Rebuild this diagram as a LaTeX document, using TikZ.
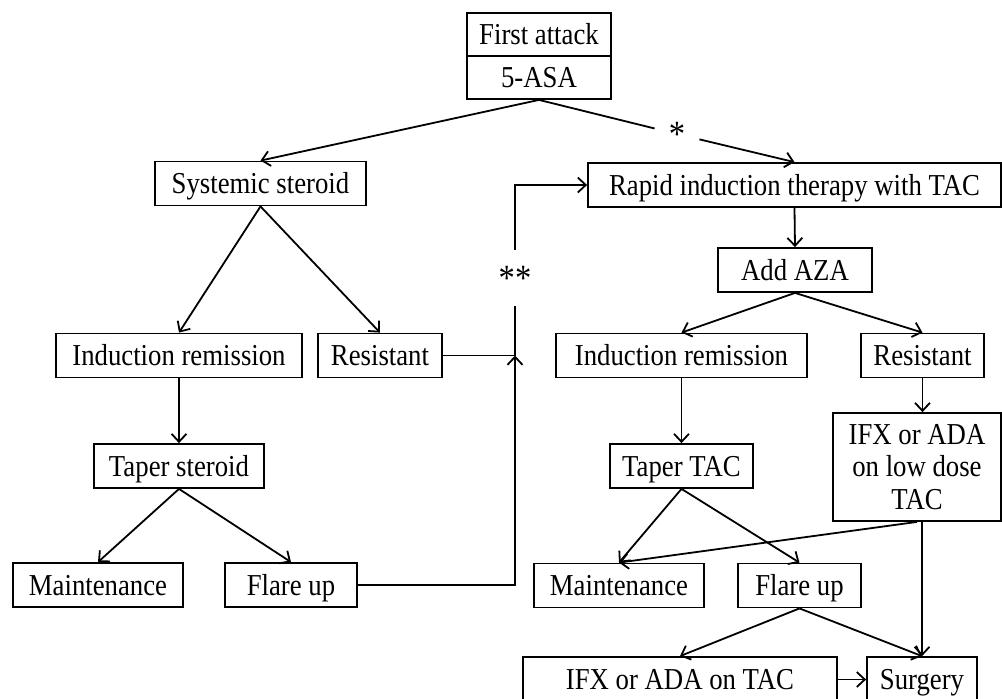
\documentclass[tikz,border=0pt]{standalone}
\usepackage{fontspec}
\setmainfont[FakeStretch=0.88]{Liberation Serif}
\usetikzlibrary{arrows.meta,calc}
\tikzset{
  blk/.style ={draw, rectangle, align=center, inner sep=2pt, line width=0.9pt,
               minimum height=22pt, text height=12pt, text depth=2pt,
               font=\fontsize{15.2}{16.3}\selectfont},
  multi/.style={text height=, text depth=},
  ar/.style  ={-{Straight Barb[length=4pt,width=7.5pt]}, line width=0.9pt},
  ln/.style  ={line width=0.9pt},
  mrk/.style ={inner sep=0pt, font=\fontsize{18.5}{18}\selectfont},
}

\begin{document}
\begin{tikzpicture}[x=0.5pt,y=-0.5pt]
\useasboundingbox (0,0) rectangle (1002,698);
% top of the tree
\node[blk, minimum width=72pt, minimum height=21.5pt] (first) at (539,34.5) {First attack};
\node[blk, minimum width=72pt, minimum height=21.5pt] (asa) at (539,77.5) {5-ASA};
\node[mrk, minimum width=22pt, minimum height=12pt] (star) at (677,134) {*};
% steroid arm
\node[blk, minimum width=105.5pt] (sys) at (260.5,183.5) {Systemic steroid};
\node[blk, minimum width=123pt] (indL) at (179,355.5) {Induction remission};
\node[blk, minimum width=62pt] (resL) at (380,355.5) {Resistant};
\node[blk, minimum width=85pt] (taperL) at (179,466) {Taper steroid};
\node[blk, minimum width=85pt] (maintL) at (98,585) {Maintenance};
\node[blk, minimum width=66pt] (flareL) at (291,585) {Flare up};
\node[mrk, minimum width=20pt, minimum height=27.5pt] (dstar) at (515,278) {**};
\coordinate (jn) at (515,355.5);
% TAC arm
\node[blk, minimum width=206.5pt] (rapid) at (794.5,185) {Rapid induction therapy with TAC};
\node[blk, minimum width=77pt] (aza) at (795,270) {Add AZA};
\node[blk, minimum width=125.5pt] (indR) at (681.5,355.5) {Induction remission};
\node[blk, minimum width=61.5pt] (resR) at (922.5,355.5) {Resistant};
\node[blk, minimum width=71.5pt] (taperR) at (681.5,466) {Taper TAC};
\node[blk, multi, minimum width=84pt, minimum height=54pt] (lowdose) at (917,467)
  {IFX or ADA\\on low dose\\TAC};
\node[blk, minimum width=85pt] (maintR) at (619,585.5) {Maintenance};
\node[blk, minimum width=61.5pt] (flareR) at (799.5,585.5) {Flare up};
\node[blk, minimum width=157pt, minimum height=22.5pt] (ifxtac) at (680,679.5) {IFX or ADA on TAC};
\node[blk, minimum width=55pt, minimum height=22.5pt] (surgery) at (922,679.5) {Surgery};
% connectors
\draw[ar] (asa.south) -- (sys.north);
\draw[ln] (asa.south) -- (star);
\draw[ar] (star) -- (rapid.north);
\draw[ar] (sys.south) -- (indL.north);
\draw[ar] (sys.south) -- (resL.north);
\draw[ar] (indL.south) -- (taperL.north);
\draw[ar] (taperL.south) -- (maintL.north);
\draw[ar] (taperL.south) -- (flareL.north);
\draw[ar] (flareL.east) -| (jn);
\draw[ln] (resL.east) -- (jn) -- (dstar);
\draw[ar] (dstar) |- (rapid.west);
\draw[ar] (rapid.south) -- (aza.north);
\draw[ar] (aza.south) -- (indR.north);
\draw[ar] (aza.south) -- (resR.north);
\draw[ar] (indR.south) -- (taperR.north);
\draw[ar] (resR.south) -- (resR.south |- lowdose.north);
\draw[ar] (taperR.south) -- (maintR.north);
\draw[ar] (taperR.south) -- (flareR.north);
\draw[ar] (lowdose.south) -- (maintR.north);
\draw[ar] (surgery.north |- lowdose.south) -- (surgery.north);
\draw[ar] (flareR.south) -- (ifxtac.north);
\draw[ar] (flareR.south) -- (surgery.north);
\draw[ar] (ifxtac.east) -- (surgery.west);
\end{tikzpicture}
\end{document}
